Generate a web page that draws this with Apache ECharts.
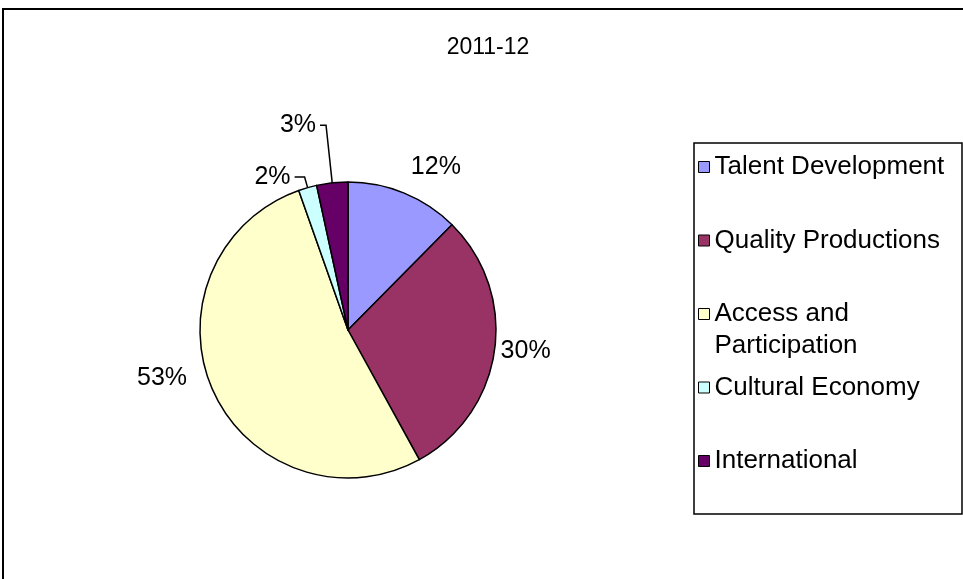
<!DOCTYPE html>
<html>
<head>
<meta charset="utf-8">
<script src="https://cdn.jsdelivr.net/npm/echarts@6/dist/echarts.min.js"></script>
<style>
  html, body { margin: 0; padding: 0; background: #fff; }
  #chart { width: 963px; height: 579px; }
</style>
</head>
<body>
<div id="chart"></div>
<script>
const title = '2011-12';
const categories = ['Talent Development', 'Quality Productions', 'Access and Participation', 'Cultural Economy', 'International'];
const shares = [12.4, 29.6, 52.6, 2.0, 3.4];
const colors = ['#9999FF', '#993366', '#FFFFCC', '#CCFFFF', '#660066'];

const font = '"Liberation Sans", Arial, sans-serif';

// leader lines only on the two thin slices
const labelLines = [
  { show: false, length: 28, length2: 0 },
  { show: false, length: 2, length2: 0 },
  { show: false, length: 24, length2: 0 },
  { show: true, length: 11, length2: 10 },
  { show: true, length: 58, length2: 6 }
];

const chart = echarts.init(document.getElementById('chart'));
const option = {
  animation: false,
  title: {
    text: title,
    left: 488,
    textAlign: 'center',
    top: 36,
    padding: 0,
    textStyle: { fontFamily: font, fontSize: 23, fontWeight: 'normal', color: '#000' }
  },
  legend: {
    orient: 'vertical',
    left: 698,
    top: 119,
    padding: 0,
    itemGap: -22.5,
    itemWidth: 11,
    itemHeight: 11,
    icon: 'rect',
    selectedMode: false,
    itemStyle: { borderColor: '#000', borderWidth: 1 },
    textStyle: { fontFamily: font, fontSize: 26, color: '#000', lineHeight: 96 },
    // wrapped entry: blank first line keeps "Access and" level with its box
    formatter: function (name) {
      return name === 'Access and Participation' ? '\nAccess and\nParticipation' : name;
    },
    data: categories.map(function (c) {
      if (c === 'Access and Participation') {
        return { name: c, textStyle: { lineHeight: 32 } };
      }
      return { name: c };
    })
  },
  graphic: [
    {
      type: 'rect',
      shape: { x: 3, y: 9, width: 980, height: 600 },
      style: { fill: 'none', stroke: '#000', lineWidth: 2 },
      silent: true
    },
    {
      type: 'rect',
      shape: { x: 694, y: 143, width: 268, height: 371 },
      style: { fill: 'none', stroke: '#000', lineWidth: 1.5 },
      silent: true
    }
  ],
  series: [
    {
      type: 'pie',
      center: [348, 330],
      radius: 148,
      startAngle: 90,
      clockwise: true,
      avoidLabelOverlap: false,
      itemStyle: { borderColor: '#000', borderWidth: 1.5 },
      emphasis: { disabled: true },
      label: {
        show: true,
        position: 'outside',
        distanceToLabelLine: 4,
        fontFamily: font,
        fontSize: 25,
        color: '#000',
        formatter: function (p) { return Math.round(p.percent) + '%'; }
      },
      labelLayout: function (p) {
        if (p.dataIndex === 0) return { dx: -8 };
        if (p.dataIndex === 2) return { dy: -22 };
        return {};
      },
      data: categories.map(function (c, i) {
        return {
          name: c,
          value: shares[i],
          itemStyle: { color: colors[i] },
          labelLine: Object.assign({ lineStyle: { color: '#000', width: 1.5 } }, labelLines[i])
        };
      })
    }
  ]
};
chart.setOption(option);
</script>
</body>
</html>
